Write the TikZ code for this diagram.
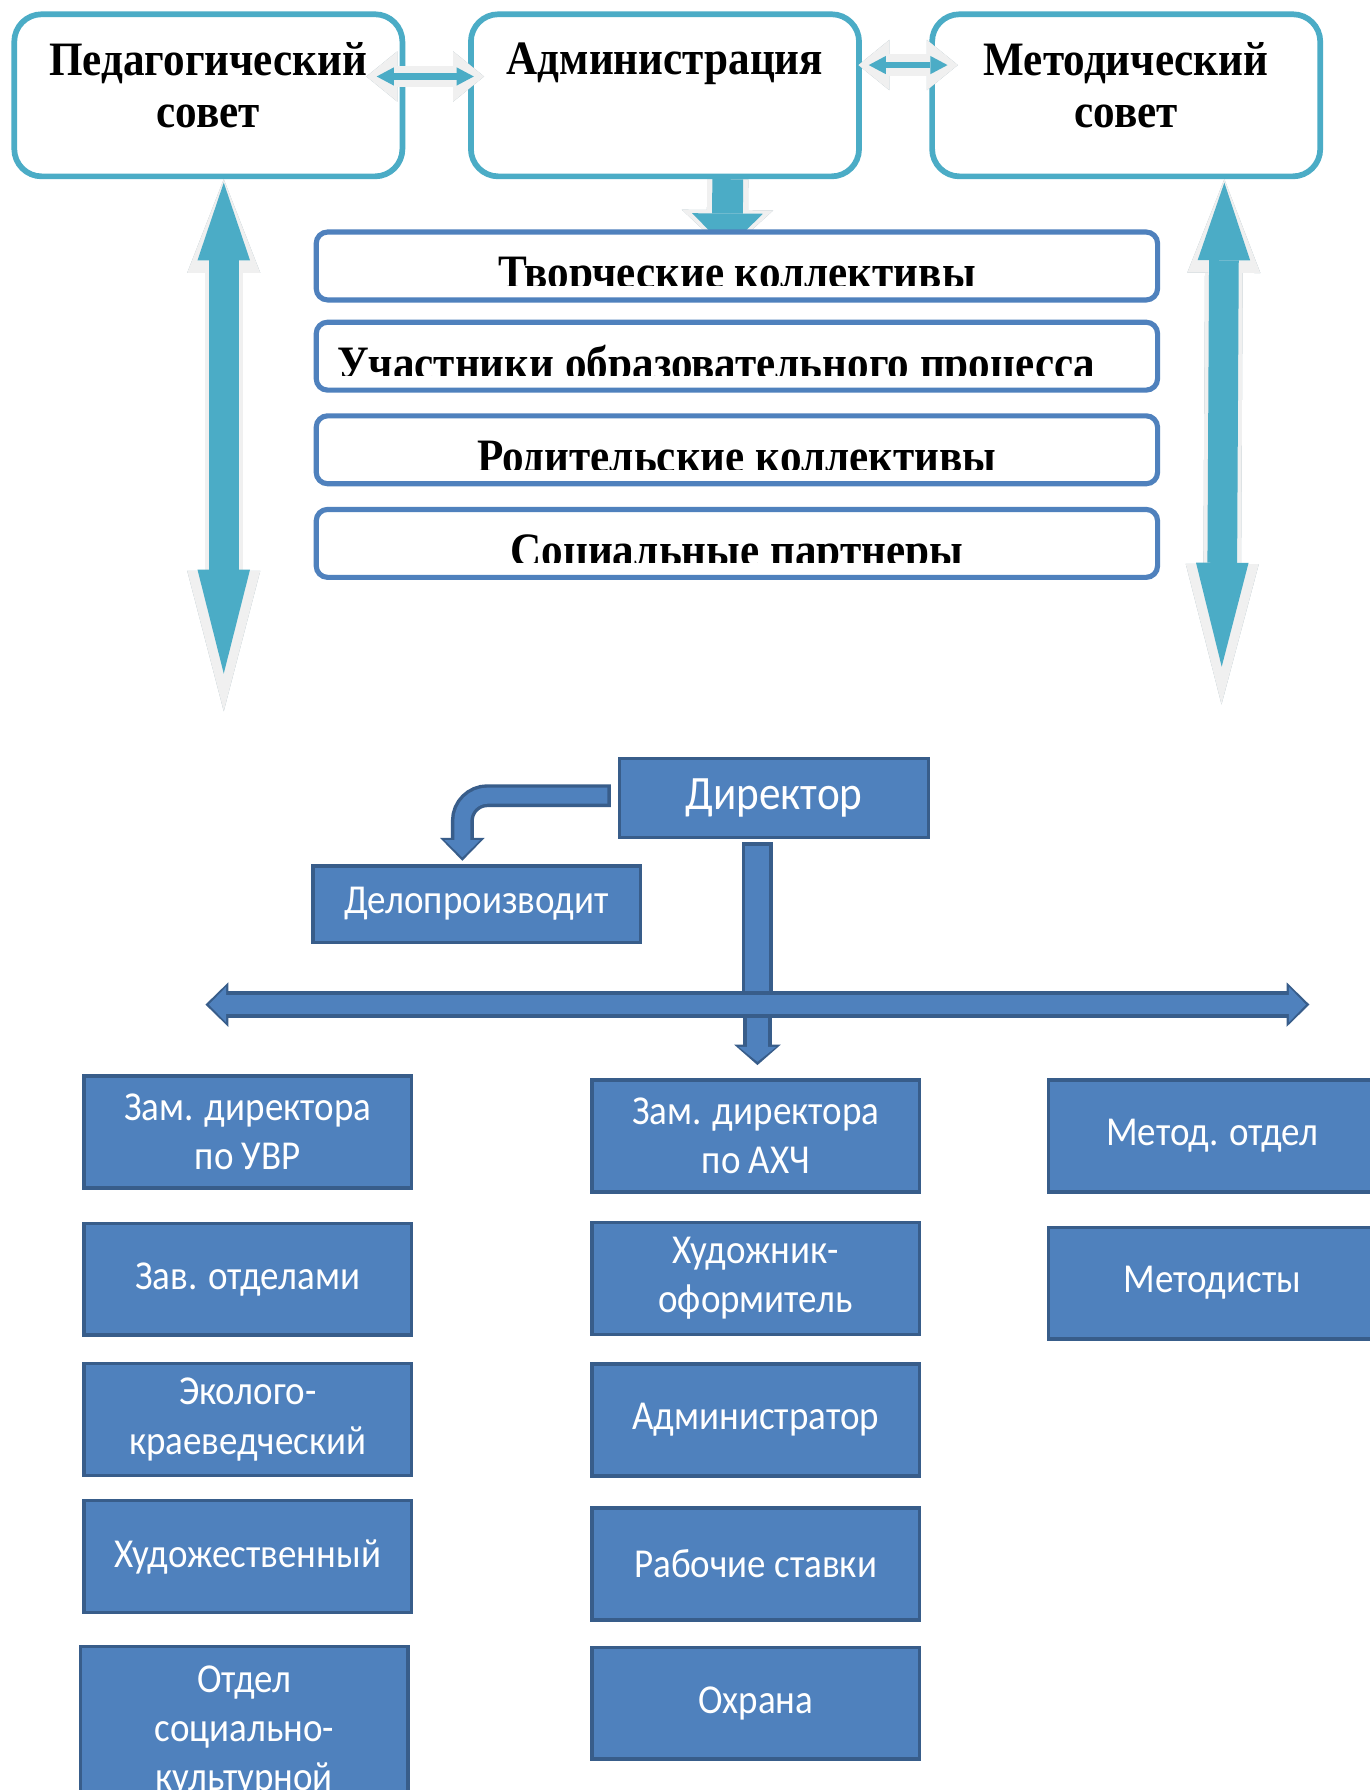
\documentclass[tikz,border=0pt]{standalone}
\usepackage{fontspec}
\newfontfamily\hdfont[FakeStretch=0.9]{Liberation Serif}
\newfontfamily\orgfont[FakeStretch=0.9]{Carlito}
\usetikzlibrary{calc}
\usetikzlibrary{positioning}
\usetikzlibrary{arrows.meta}
\usetikzlibrary{backgrounds}
\definecolor{sovteal}{HTML}{4BACC6}
\definecolor{sovblue}{HTML}{4F81BD}
\definecolor{sovdark}{HTML}{385D8A}
\definecolor{sovgray}{HTML}{F0F0F0}
\definecolor{sovshadow}{HTML}{9DB3BB}
\tikzset{topbox/.style={draw=sovteal, line width=5pt, fill=white, rounded corners=24pt,
           minimum width=340pt, minimum height=142pt, inner sep=0pt},
         toptext/.style={font=\hdfont\bfseries\fontsize{42}{46}\selectfont,
           align=center, inner sep=0pt, anchor=north},
         midbox/.style={draw=sovblue, line width=4.5pt, fill=white, rounded corners=10pt,
           minimum width=737pt, minimum height=59.5pt, inner sep=0pt},
         midtext/.style={font=\hdfont\bfseries\fontsize{42}{46}\selectfont,
           inner sep=0pt, anchor=base},
         orgbox/.style={draw=sovdark, line width=3pt, fill=sovblue, text=white,
           minimum width=287pt, minimum height=98pt, inner sep=0pt, align=center,
           font=\orgfont\fontsize{36}{43}\selectfont},
         shade/.style={sovshadow, shift={(3,2)}}, % grey shadow under the light arrows
         % heads of the block arrows
         outtop/.tip={Triangle[width=64pt,length=82pt,line width=0pt]},
         outbot/.tip={Triangle[width=64pt,length=123pt,line width=0pt]},
         intop/.tip={Triangle[width=46pt,length=68pt,line width=0pt]},
         inbot/.tip={Triangle[width=46pt,length=91pt,line width=0pt]},
         outsmall/.tip={Triangle[width=44pt,length=27pt,line width=0pt]},
         insmall/.tip={Triangle[width=16pt,length=15pt,line width=0pt]},
         outblue/.tip={Triangle[width=39pt,length=20pt,line width=0pt]},
         inblue/.tip={Triangle[width=31pt,length=15pt,line width=0pt]}}

\begin{document}
\begin{tikzpicture}[x=1pt, y=-1pt]
  \useasboundingbox (0,0) rectangle (1200,1568);
  \clip (0,0) rectangle (1200,1568);
  \begin{scope}[on background layer]
    \fill[white] (0,0) rectangle (1200,1568);
  \end{scope}

  % councils
  \node [topbox] (ped) at (182.5,83.5) {};
  \node [topbox, right=55pt of ped] (admin) {};
  \node [topbox, right=59pt of admin] (metod) {};
  \node [toptext] (ped-t) at ($(ped.north)+(0,27)$) {Педагогический\\совет};
  \node [toptext] (admin-t) at ($(admin.north)+(0,27)$) {Администрация};
  \node [toptext] (metod-t) at ($(metod.north)+(0,27)$) {Методический\\совет};

  % participants
  \node [midbox] (tv) at (645.5,233) {};
  \node [midbox, below=15pt of tv] (uch) {};
  \node [midbox, below=18pt of uch] (rod) {};
  \node [midbox, below=18pt of rod] (soc) {};
  \foreach \b/\dx/\t in {tv/0/{Творческие коллективы},
                         uch/-18/{Участники образовательного процесса},
                         rod/0/{Родительские коллективы},
                         soc/0/{Социальные партнеры}} {
    \begin{scope}
      \clip (\b.north west) rectangle ($(\b.south east)+(0,-15)$);
      \node [midtext] (\b-t) at ($(\b.south)+(\dx,-12)$) {\t};
    \end{scope}
  }

  \coordinate (pedend) at (196,623);
  \coordinate (metend) at (1070,617);
  \foreach \b/\dx/\e in {ped/13.5/pedend, metod/86/metend} {
    \draw [shade, line width=33pt, outtop-outbot] ($(\b.south)+(\dx,0)$) -- (\e);
    \draw [sovgray, line width=33pt, outtop-outbot] ($(\b.south)+(\dx,0)$) -- (\e);
    \draw [sovteal, line width=26pt, shorten <=3pt, shorten >=33pt, intop-inbot]
      ($(\b.south)+(\dx,0)$) -- (\e);
  }

  \begin{scope}[on background layer]
    \draw [shade, line width=36pt, -{Triangle[width=80pt,length=37pt,line width=0pt]}]
      ($(admin.south)+(55,0)$) -- ($(tv.north)+(-8.5,20)$);
    \draw [sovgray, line width=36pt, -{Triangle[width=80pt,length=37pt,line width=0pt]}]
      ($(admin.south)+(55,0)$) -- ($(tv.north)+(-8.5,20)$);
    \draw [sovteal, line width=27pt, shorten >=3pt, -{Triangle[width=62pt,length=31pt,line width=0pt]}]
      ($(admin.south)+(55,0)$) -- ($(tv.north)+(-8.5,20)$);
  \end{scope}

  \draw [shade, line width=19pt, outsmall-outsmall] ($(ped.east)+(-34,-16.5)$) -- ($(admin.west)+(14,-16.5)$);
  \draw [sovgray, line width=19pt, outsmall-outsmall] ($(ped.east)+(-34,-16.5)$) -- ($(admin.west)+(14,-16.5)$);
  \draw [sovteal, line width=6pt, shorten <=9pt, shorten >=9pt, insmall-insmall]
    ($(ped.east)+(-34,-16.5)$) -- ($(admin.west)+(14,-16.5)$);
  \draw [shade, line width=19pt, outsmall-outsmall] ($(admin.east)+(-3,-26.5)$) -- ($(metod.west)+(25,-26.5)$);
  \draw [sovgray, line width=19pt, outsmall-outsmall] ($(admin.east)+(-3,-26.5)$) -- ($(metod.west)+(25,-26.5)$);
  \draw [sovteal, line width=6pt, shorten <=9pt, shorten >=9pt, insmall-insmall]
    ($(admin.east)+(-3,-26.5)$) -- ($(metod.west)+(25,-26.5)$);

  % staff
  \node [orgbox, minimum width=271pt, minimum height=69pt, font=\orgfont\fontsize{42}{48}\selectfont]
    (dir) at (678,699) {Директор};
  \node [orgbox, minimum height=67pt] (delo) at (417.5,792) {Делопроизводит};

  \coordinate (hub) at (663.5,880);
  \coordinate (drop) at (663.5,933);
  \coordinate (barL) at (180,880);
  \coordinate (barR) at (1147,880);

  \draw [sovdark, line width=20pt, rounded corners=22pt, -outblue]
    ($(dir.west)+(-6,-2)$) -| ($(delo.north)+(-12.5,-3)$);
  \draw [sovblue, line width=14pt, rounded corners=22pt, shorten <=3pt, shorten >=3pt, -inblue]
    ($(dir.west)+(-6,-2)$) -| ($(delo.north)+(-12.5,-3)$);
  \draw [sovdark, line width=27pt] ($(dir.south)+(-14.5,3)$) -- (hub);
  \draw [sovblue, line width=21pt] ($(dir.south)+(-14.5,6)$) -- (hub);
  \draw [sovdark, line width=25pt, -{Triangle[width=41pt,length=18pt,line width=0pt]}] (hub) -- (drop);
  \draw [sovblue, line width=19pt, shorten >=3pt, -{Triangle[width=33pt,length=13pt,line width=0pt]}] (hub) -- (drop);
  \draw [sovdark, line width=23pt, outblue-outblue] (barL) -- (barR);
  \draw [sovblue, line width=17pt, shorten <=3pt, shorten >=3pt, inblue-inblue] (barL) -- (barR);

  \node [orgbox] (uvr) at (217,991.5) {Зам. директора\\по УВР};
  \node [orgbox, below=28pt of uvr] (zav) {Зав. отделами};
  \node [orgbox, below=22pt of zav] (eko) {Эколого-\\краеведческий};
  \node [orgbox, below=19pt of eko] (hud) {Художественный};
  \node [orgbox, minimum height=149pt] (otd) at (214,1517) {Отдел\\социально-\\культурной};

  \node [orgbox] (ahch) at (662,995) {Зам. директора\\по АХЧ};
  \node [orgbox, below=24pt of ahch] (hudo) {Художник-\\оформитель};
  \node [orgbox, below=23pt of hudo] (adm) {Администратор};
  \node [orgbox, below=25pt of adm] (rab) {Рабочие ставки};
  \node [orgbox, below=21pt of rab] (ohr) {Охрана};

  \node [orgbox] (mo) at (1062,995) {Метод. отдел};
  \node [orgbox, below=28pt of mo] (met) {Методисты};
\end{tikzpicture}
\end{document}
